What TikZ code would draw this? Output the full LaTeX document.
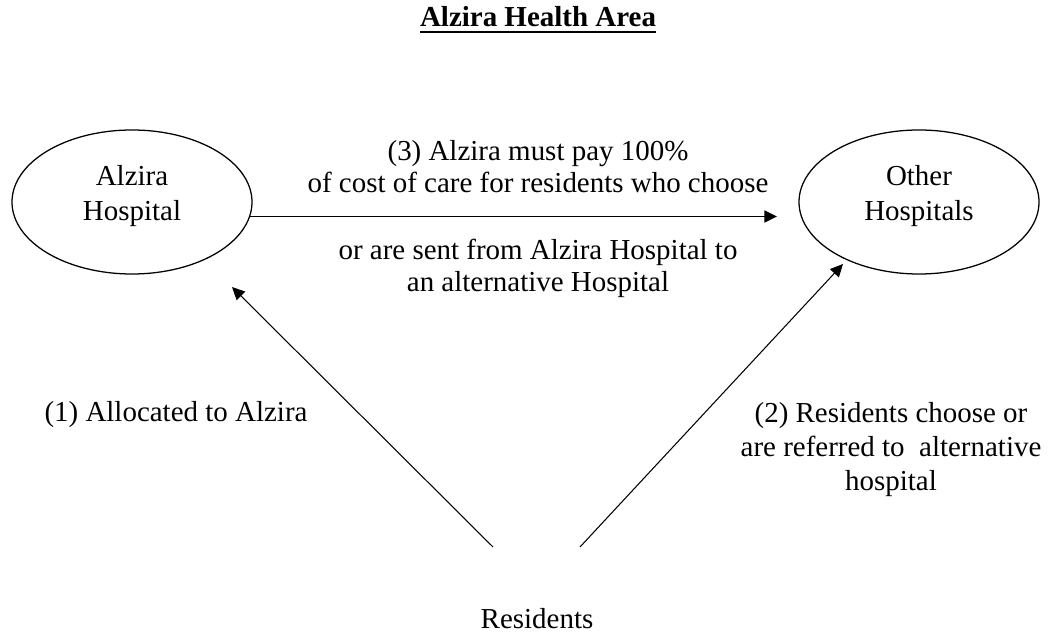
\documentclass[tikz,border=0pt]{standalone}
\usepackage{fontspec}
\setmainfont{Liberation Serif}
\usetikzlibrary{arrows.meta,shapes.geometric}
\newcommand{\ulhead}[1]{\setbox0\hbox{#1}\rlap{\vrule width\wd0 height -3pt depth 4pt}\box0}

\begin{document}
\begin{tikzpicture}[x=1cm,y=1cm,>={Triangle[length=9pt,width=8.5pt]},
  every node/.style={font=\fontsize{20.6}{23}\selectfont},
  hosp/.style={draw,ellipse,line width=.9pt,minimum width=6cm,minimum height=3.6cm,align=center,text depth=13pt,font=\fontsize{20.6}{25}\selectfont}]
\path[use as bounding box] (0,0) rectangle (26.375,15.9);
\node[anchor=base] (title) at (13.45,15.225) {\ulhead{\textbf{Alzira Health Area}}};
\node[hosp] (alzira) at (3.3,10.85) {Alzira\\Hospital};
\node[hosp] (other) at (22.975,10.85) {Other\\Hospitals};
\node[anchor=base] (res) at (13.425,.2) {Residents};
% free ends of the connectors
\coordinate (tip3) at (19.425,10.45);
\coordinate (res1) at (12.325,2.225);
\coordinate (tip1) at (5.8,8.725);
\coordinate (res2) at (14.5,2.225);
\coordinate (tip2) at (21.075,9.3);
\draw[->,line width=1.2pt] (alzira.-7.8)--(alzira.-7.8 -| tip3);
\draw[->,line width=.75pt] (res1)--(tip1);
\draw[->,line width=.75pt] (res2)--(tip2);
\node[anchor=base,align=center] (pay) at (13.45,11.075) {(3) Alzira must pay 100\%\\of cost of care for residents who choose};
\node[anchor=base,align=center] (sent) at (13.45,8.6) {or are sent from Alzira Hospital to\\an alternative Hospital};
\node[anchor=base] (alloc) at (4.4,5.35) {(1) Allocated to Alzira};
\node[anchor=base,align=center,font=\fontsize{20.6}{24}\selectfont] (choose) at (22.275,3.64) {(2) Residents choose or\\are referred to\ \ alternative\\hospital};
\end{tikzpicture}
\end{document}
